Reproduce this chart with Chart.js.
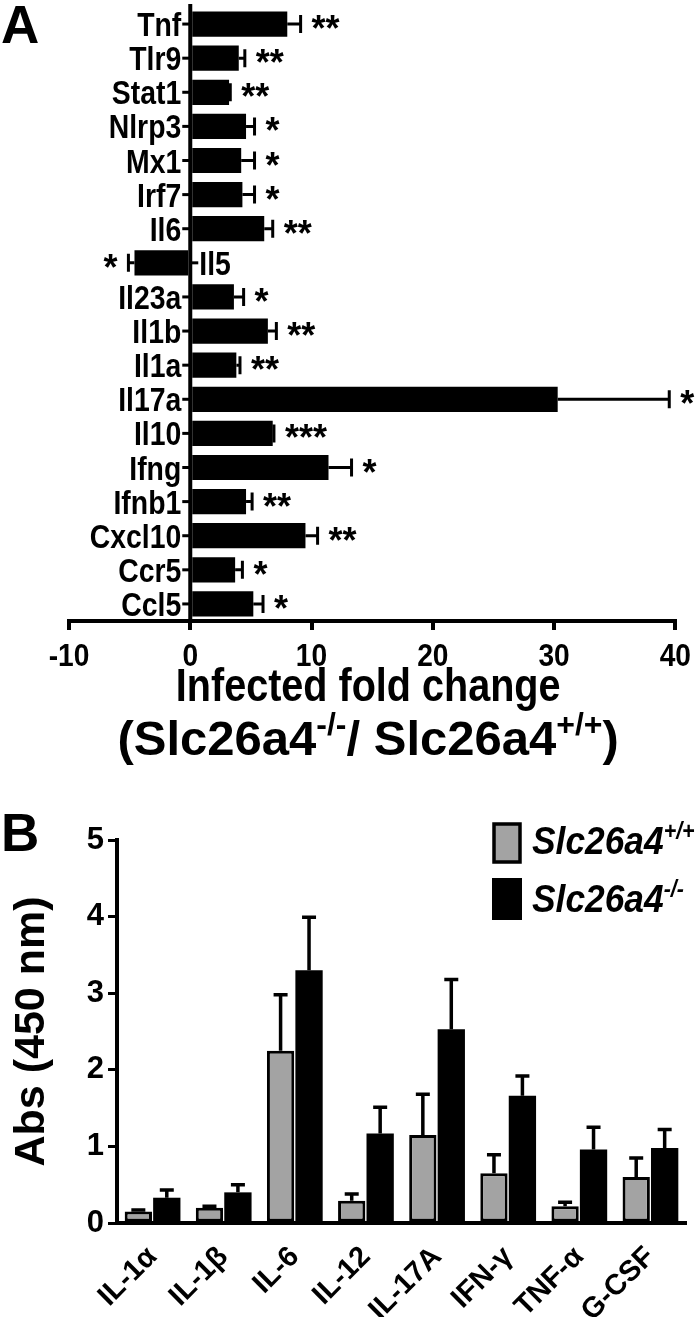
<!DOCTYPE html>
<html>
<head>
<meta charset="utf-8">
<script src="https://cdn.jsdelivr.net/npm/chart.js@4"></script>
<style>
  body { margin: 0; background: #fff; width: 700px; height: 1317px; overflow: hidden; position: relative; }
  #wrapA { position: absolute; left: 0; top: 0; width: 700px; height: 790px; }
  #wrapB { position: absolute; left: 0; top: 790px; width: 700px; height: 527px; }
</style>
</head>
<body>
<div id="wrapA"><canvas id="chartA"></canvas></div>
<div id="wrapB"><canvas id="chartB"></canvas></div>
<script>
const FONT = '"Liberation Sans", Arial, sans-serif';

// Panel A data
const genes = ["Tnf", "Tlr9", "Stat1", "Nlrp3", "Mx1", "Irf7", "Il6", "Il5", "Il23a", "Il1b",
  "Il1a", "Il17a", "Il10", "Ifng", "Ifnb1", "Cxcl10", "Ccr5", "Ccl5"];
const foldChange = [8.0, 4.0, 3.2, 4.6, 4.2, 4.3, 6.1, -4.6, 3.6, 6.4,
  3.8, 30.3, 6.8, 11.4, 4.6, 9.5, 3.7, 5.2];
const foldErr = [1.1, 0.5, 0.1, 0.7, 1.1, 1.0, 0.7, 0.5, 0.8, 0.7,
  0.3, 9.2, 0.1, 1.9, 0.5, 1.0, 0.6, 0.8];
const stars = ["**", "**", "**", "*", "*", "*", "**", "*", "*", "**",
  "**", "*", "***", "*", "**", "**", "*", "*"];

// Panel B data
const cytokines = ["IL-1\u03b1", "IL-1\u03b2", "IL-6", "IL-12", "IL-17A", "IFN-\u03b3", "TNF-\u03b1", "G-CSF"];
const wtAbs = [0.15, 0.20, 2.25, 0.29, 1.15, 0.65, 0.22, 0.60];
const wtErr = [0.02, 0.02, 0.73, 0.09, 0.53, 0.24, 0.05, 0.25];
const koAbs = [0.33, 0.40, 3.30, 1.17, 2.53, 1.66, 0.96, 0.98];
const koErr = [0.10, 0.10, 0.69, 0.34, 0.65, 0.26, 0.29, 0.24];

// narrow-looking bold text (squeezed horizontally)
function squeeze(ctx, text, x, y, size, align, sx, style) {
  ctx.save();
  ctx.font = (style || "bold") + " " + size + "px " + FONT;
  ctx.textAlign = align;
  ctx.translate(x, y);
  ctx.scale(sx, 1);
  ctx.fillText(text, 0, 0);
  ctx.restore();
}

// text with superscript pieces: parts = [[text, isSup], ...]
function drawRich(ctx, parts, x, y, size, style, align, sx, supRatio) {
  const big = style + " " + size + "px " + FONT;
  const small = style + " " + Math.round(size * supRatio) + "px " + FONT;
  let total = 0;
  parts.forEach(p => { ctx.font = p[1] ? small : big; total += ctx.measureText(p[0]).width; });
  ctx.save();
  ctx.translate(x, y);
  ctx.scale(sx, 1);
  let cx = align === "center" ? -total / 2 : 0;
  ctx.textAlign = "left";
  ctx.textBaseline = "alphabetic";
  parts.forEach(p => {
    ctx.font = p[1] ? small : big;
    ctx.fillText(p[0], cx, p[1] ? -size * 0.4 : 0);
    cx += ctx.measureText(p[0]).width;
  });
  ctx.restore();
}

const panelA = {
  id: "panelA",
  afterDatasetsDraw(chart) {
    const ctx = chart.ctx;
    const xs = chart.scales.x;
    const area = chart.chartArea;
    const bars = chart.getDatasetMeta(0).data;
    const x0 = xs.getPixelForValue(0);
    ctx.save();
    ctx.strokeStyle = "#000";
    ctx.fillStyle = "#000";
    ctx.textBaseline = "alphabetic";
    // error bars and significance stars
    ctx.lineWidth = 3;
    bars.forEach((bar, i) => {
      const v = foldChange[i];
      const end = xs.getPixelForValue(v + Math.sign(v) * foldErr[i]);
      ctx.beginPath();
      ctx.moveTo(bar.x, bar.y);
      ctx.lineTo(end, bar.y);
      ctx.moveTo(end, bar.y - 9);
      ctx.lineTo(end, bar.y + 9);
      ctx.stroke();
      if (v >= 0) squeeze(ctx, stars[i], end + 11, bar.y + 17, 36, "left", 1);
      else squeeze(ctx, stars[i], end - 11, bar.y + 17, 36, "right", 1);
    });
    // zero axis with category ticks and labels
    ctx.lineWidth = 4;
    ctx.beginPath();
    ctx.moveTo(x0, area.top - 3);
    ctx.lineTo(x0, area.bottom);
    ctx.stroke();
    ctx.lineWidth = 3;
    bars.forEach((bar, i) => {
      const dir = foldChange[i] >= 0 ? -1 : 1;
      ctx.beginPath();
      ctx.moveTo(x0, bar.y);
      ctx.lineTo(x0 + dir * 8, bar.y);
      ctx.stroke();
      squeeze(ctx, genes[i], x0 + dir * 9, bar.y + 12, 33, dir < 0 ? "right" : "left", 0.86);
    });
    // x tick labels
    xs.ticks.forEach(t => {
      squeeze(ctx, String(t.value), xs.getPixelForValue(t.value), 666, 32, "center", 0.88);
    });
    ctx.restore();
  },
  afterDraw(chart) {
    const ctx = chart.ctx;
    const area = chart.chartArea;
    const cx = (area.left + area.right) / 2 - 4;
    ctx.save();
    ctx.fillStyle = "#000";
    ctx.textBaseline = "alphabetic";
    squeeze(ctx, "A", 1, 43, 53, "left", 1);
    squeeze(ctx, "Infected fold change", cx, 701, 46, "center", 0.86);
    drawRich(ctx, [["(Slc26a4", false], ["-/-", true], ["/ Slc26a4", false], ["+/+", true], [")", false]],
      cx, 755, 49, "bold", "center", 1, 0.65);
    ctx.restore();
  }
};

new Chart(document.getElementById("chartA"), {
  type: "bar",
  data: {
    labels: genes,
    datasets: [{
      data: foldChange,
      backgroundColor: "#000",
      borderWidth: 0,
      categoryPercentage: 1,
      barPercentage: 0.74
    }]
  },
  options: {
    indexAxis: "y",
    responsive: true,
    maintainAspectRatio: false,
    animation: false,
    layout: { padding: { left: 69, right: 17, top: 7, bottom: 0 } },
    plugins: { legend: { display: false }, tooltip: { enabled: false } },
    scales: {
      x: {
        min: -10, max: 40,
        ticks: { stepSize: 10, color: "rgba(0,0,0,0)", padding: 8, font: { family: FONT, size: 30, weight: "bold" } },
        grid: { drawOnChartArea: false, drawTicks: true, tickLength: 9, lineWidth: 4, color: "#000" },
        border: { display: true, color: "#000", width: 4 },
        afterFit(s) { s.height = 169; }
      },
      y: { display: false }
    }
  },
  plugins: [panelA]
});

const panelB = {
  id: "panelB",
  afterDatasetsDraw(chart) {
    const ctx = chart.ctx;
    const ys = chart.scales.y;
    ctx.save();
    ctx.strokeStyle = "#000";
    ctx.lineWidth = 3.5;
    [[wtAbs, wtErr], [koAbs, koErr]].forEach((s, d) => {
      chart.getDatasetMeta(d).data.forEach((bar, i) => {
        const top = ys.getPixelForValue(s[0][i] + s[1][i]);
        ctx.beginPath();
        ctx.moveTo(bar.x, bar.y);
        ctx.lineTo(bar.x, top);
        ctx.moveTo(bar.x - 7, top);
        ctx.lineTo(bar.x + 7, top);
        ctx.stroke();
      });
    });
    ctx.restore();
  },
  afterDraw(chart) {
    const ctx = chart.ctx;
    ctx.save();
    ctx.fillStyle = "#000";
    ctx.textBaseline = "alphabetic";
    squeeze(ctx, "B", 1, 61, 53, "left", 1);
    // legend
    ctx.fillStyle = "#a3a3a3";
    ctx.fillRect(494, 34, 26, 38);
    ctx.strokeStyle = "#000";
    ctx.lineWidth = 3.5;
    ctx.strokeRect(494, 34, 26, 38);
    ctx.fillStyle = "#000";
    ctx.fillRect(492, 88, 30, 42);
    drawRich(ctx, [["Slc26a4", false], ["+/+", true]], 532, 64, 38, "italic bold", "left", 0.93, 0.6);
    drawRich(ctx, [["Slc26a4", false], ["-/-", true]], 532, 122, 38, "italic bold", "left", 0.93, 0.6);
    ctx.restore();
  }
};

new Chart(document.getElementById("chartB"), {
  type: "bar",
  data: {
    labels: cytokines,
    datasets: [
      { data: wtAbs, backgroundColor: "#a3a3a3", borderColor: "#000", borderWidth: 3, borderSkipped: false,
        categoryPercentage: 0.8, barPercentage: 0.96 },
      { data: koAbs, backgroundColor: "#000", borderWidth: 0,
        categoryPercentage: 0.8, barPercentage: 0.96 }
    ]
  },
  options: {
    responsive: true,
    maintainAspectRatio: false,
    animation: false,
    layout: { padding: { left: 0, right: 14, top: 50, bottom: 0 } },
    plugins: { legend: { display: false }, tooltip: { enabled: false } },
    scales: {
      x: {
        ticks: { color: "#000", minRotation: 45, maxRotation: 45, padding: 9,
          font: { family: FONT, size: 29, weight: "bold" } },
        grid: { display: false },
        border: { display: true, color: "#000", width: 4 },
        afterFit(s) { s.height = 94; }
      },
      y: {
        min: 0, max: 5,
        ticks: { stepSize: 1, color: "#000", padding: 4, font: { family: FONT, size: 31, weight: "bold" } },
        grid: { drawOnChartArea: false, drawTicks: true, tickLength: 9, lineWidth: 3, color: "#000" },
        border: { display: true, color: "#000", width: 4 },
        title: { display: true, text: "Abs (450 nm)", color: "#000", padding: { top: 6, bottom: 0 },
          font: { family: FONT, size: 43, weight: "bold" } },
        afterFit(s) { s.width = 117; }
      }
    }
  },
  plugins: [panelB]
});
</script>
</body>
</html>
